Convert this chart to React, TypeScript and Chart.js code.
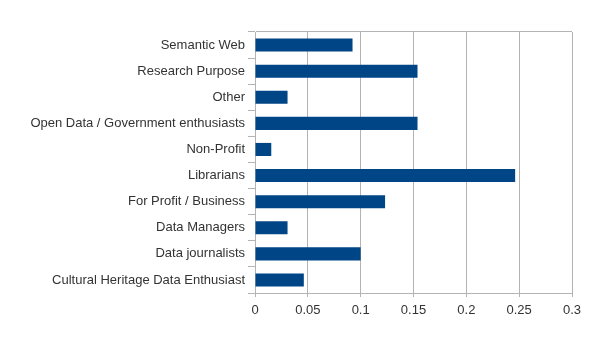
import React, { useEffect, useRef } from "react";
import { Chart, registerables } from "chart.js";

Chart.register(...registerables);

const categories = [
  "Semantic Web",
  "Research Purpose",
  "Other",
  "Open Data / Government enthusiasts",
  "Non-Profit",
  "Librarians",
  "For Profit / Business",
  "Data Managers",
  "Data journalists",
  "Cultural Heritage Data Enthusiast",
];

const values = [0.0923, 0.1538, 0.0308, 0.1538, 0.0154, 0.2462, 0.1231, 0.0308, 0.1, 0.0462];

const xMin = 0;
const xMax = 0.3;
const xStep = 0.05;

export default function App() {
  const ref = useRef<HTMLCanvasElement | null>(null);

  useEffect(() => {
    if (!ref.current) return;
    const grid = "#b3b3b3";
    const chart = new Chart(ref.current, {
      type: "bar",
      data: {
        labels: categories,
        datasets: [
          {
            data: values,
            backgroundColor: "#004586",
            borderWidth: 0,
            barPercentage: 0.5,
            categoryPercentage: 1,
          },
        ],
      },
      options: {
        indexAxis: "y",
        responsive: false,
        animation: false,
        maintainAspectRatio: false,
        layout: { padding: { top: 32, right: 33, left: 0, bottom: 0 } },
        plugins: { legend: { display: false }, tooltip: { enabled: false } },
        scales: {
          x: {
            min: xMin,
            max: xMax,
            ticks: {
              stepSize: xStep,
              color: "#333333",
              font: { family: "'Liberation Sans', Arial, sans-serif", size: 13 },
              padding: 6,
              callback: (v: any) => String(Number(Number(v).toFixed(2))),
            },
            grid: { color: grid, tickLength: 4, lineWidth: 1 },
            border: { color: grid },
            afterFit: (s: any) => {
              s.height = 47;
            },
          },
          y: {
            ticks: {
              color: "#333333",
              font: { family: "'Liberation Sans', Arial, sans-serif", size: 13 },
              padding: 3,
            },
            grid: {
              offset: true,
              tickLength: 7,
              drawOnChartArea: true,
              color: (ctx: any) => (ctx.index === 0 ? grid : "rgba(0,0,0,0)"),
              tickColor: grid,
            },
            border: { color: grid },
            afterFit: (s: any) => {
              s.width = 255;
            },
          },
        },
      },
    });
    return () => chart.destroy();
  }, []);

  return (
    <div style={{ position: "fixed", left: 0, top: 0, width: 605, height: 340, background: "#fff" }}>
      <canvas ref={ref} width={605} height={340} />
    </div>
  );
}
